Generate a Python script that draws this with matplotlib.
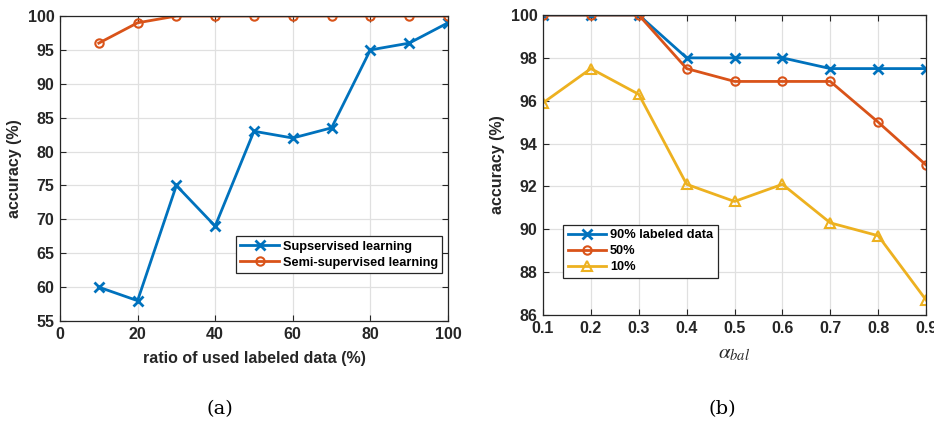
import matplotlib.pyplot as plt

# panel (a)
ratio = [10, 20, 30, 40, 50, 60, 70, 80, 90, 100]
sup_acc = [60, 58, 75, 69, 83, 82, 83.5, 95, 96, 99]
semi_acc = [96, 99, 100, 100, 100, 100, 100, 100, 100, 100]

# panel (b)
alpha = [0.1, 0.2, 0.3, 0.4, 0.5, 0.6, 0.7, 0.8, 0.9]
acc_90 = [100, 100, 100, 98, 98, 98, 97.5, 97.5, 97.5]
acc_50 = [100, 100, 100, 97.5, 96.9, 96.9, 96.9, 95, 93]
acc_10 = [95.9, 97.5, 96.3, 92.1, 91.3, 92.1, 90.3, 89.7, 86.7]

blue = '#0072BD'
orange = '#D95319'
yellow = '#EDB120'

plt.rcParams['font.family'] = ['Liberation Sans', 'DejaVu Sans']
plt.rcParams['mathtext.fontset'] = 'stix'

fig = plt.figure(figsize=(9.34, 4.23), dpi=100)
ax1 = fig.add_axes([0.0642, 0.2411, 0.4154, 0.7210])
ax2 = fig.add_axes([0.5814, 0.2553, 0.4101, 0.7092])


def style(ax):
    ax.grid(True, color='#e0e0e0', linewidth=0.9)
    ax.set_axisbelow(True)
    ax.tick_params(direction='in', top=True, right=True, labelsize=11.5,
                   length=4, width=0.8, colors='#262626', pad=4)
    for s in ax.spines.values():
        s.set_color('#262626')
        s.set_linewidth(0.9)
    for lab in ax.get_xticklabels() + ax.get_yticklabels():
        lab.set_fontweight('bold')


def add_legend(ax, **kw):
    leg = ax.legend(prop={'size': 9.2, 'weight': 'bold'},
                    fancybox=False, framealpha=1, edgecolor='#262626',
                    borderpad=0.35, handlelength=3.0, labelspacing=0.3,
                    handletextpad=0.3, borderaxespad=0, **kw)
    leg.get_frame().set_linewidth(0.9)


ax1.plot(ratio, sup_acc, color=blue, marker='x', ms=7, mew=2, lw=2,
         label='Supservised learning')
ax1.plot(ratio, semi_acc, color=orange, marker='o', ms=6, mfc='none', mew=1.5,
         lw=2, label='Semi-supervised learning')
ax1.set_xlim(0, 100)
ax1.set_ylim(55, 100)
ax1.set_xticks(range(0, 101, 20))
ax1.set_yticks(range(55, 101, 5))
style(ax1)
ax1.set_xlabel('ratio of used labeled data (%)', fontsize=11.5, fontweight='bold',
               color='#262626', labelpad=7)
ax1.set_ylabel('accuracy (%)', fontsize=11.5, fontweight='bold', color='#262626',
               labelpad=4)
add_legend(ax1, loc='lower right', bbox_to_anchor=(0.985, 0.157))

ax2.plot(alpha, acc_90, color=blue, marker='x', ms=7, mew=2, lw=2,
         label='90% labeled data')
ax2.plot(alpha, acc_50, color=orange, marker='o', ms=6, mfc='none', mew=1.5,
         lw=2, label='50%')
ax2.plot(alpha, acc_10, color=yellow, marker='^', ms=7, mfc='none', mew=1.5,
         lw=2, label='10%')
ax2.set_xlim(0.1, 0.9)
ax2.set_ylim(86, 100)
ax2.set_xticks(alpha)
ax2.set_xticklabels([f'{a:.1f}' for a in alpha])
ax2.set_yticks(range(86, 101, 2))
style(ax2)
ax2.set_xlabel(r'$\alpha_{bal}$', fontsize=15, color='#262626', labelpad=6)
ax2.set_ylabel('accuracy (%)', fontsize=11.5, fontweight='bold', color='#262626',
               labelpad=4)
add_legend(ax2, loc='upper left', bbox_to_anchor=(0.053, 0.3))

fig.text(0.2355, 0.02, '(a)', ha='center', fontsize=14, family='DejaVu Serif')
fig.text(0.773, 0.02, '(b)', ha='center', fontsize=14, family='DejaVu Serif')

fig.savefig('out.png', dpi=100)
